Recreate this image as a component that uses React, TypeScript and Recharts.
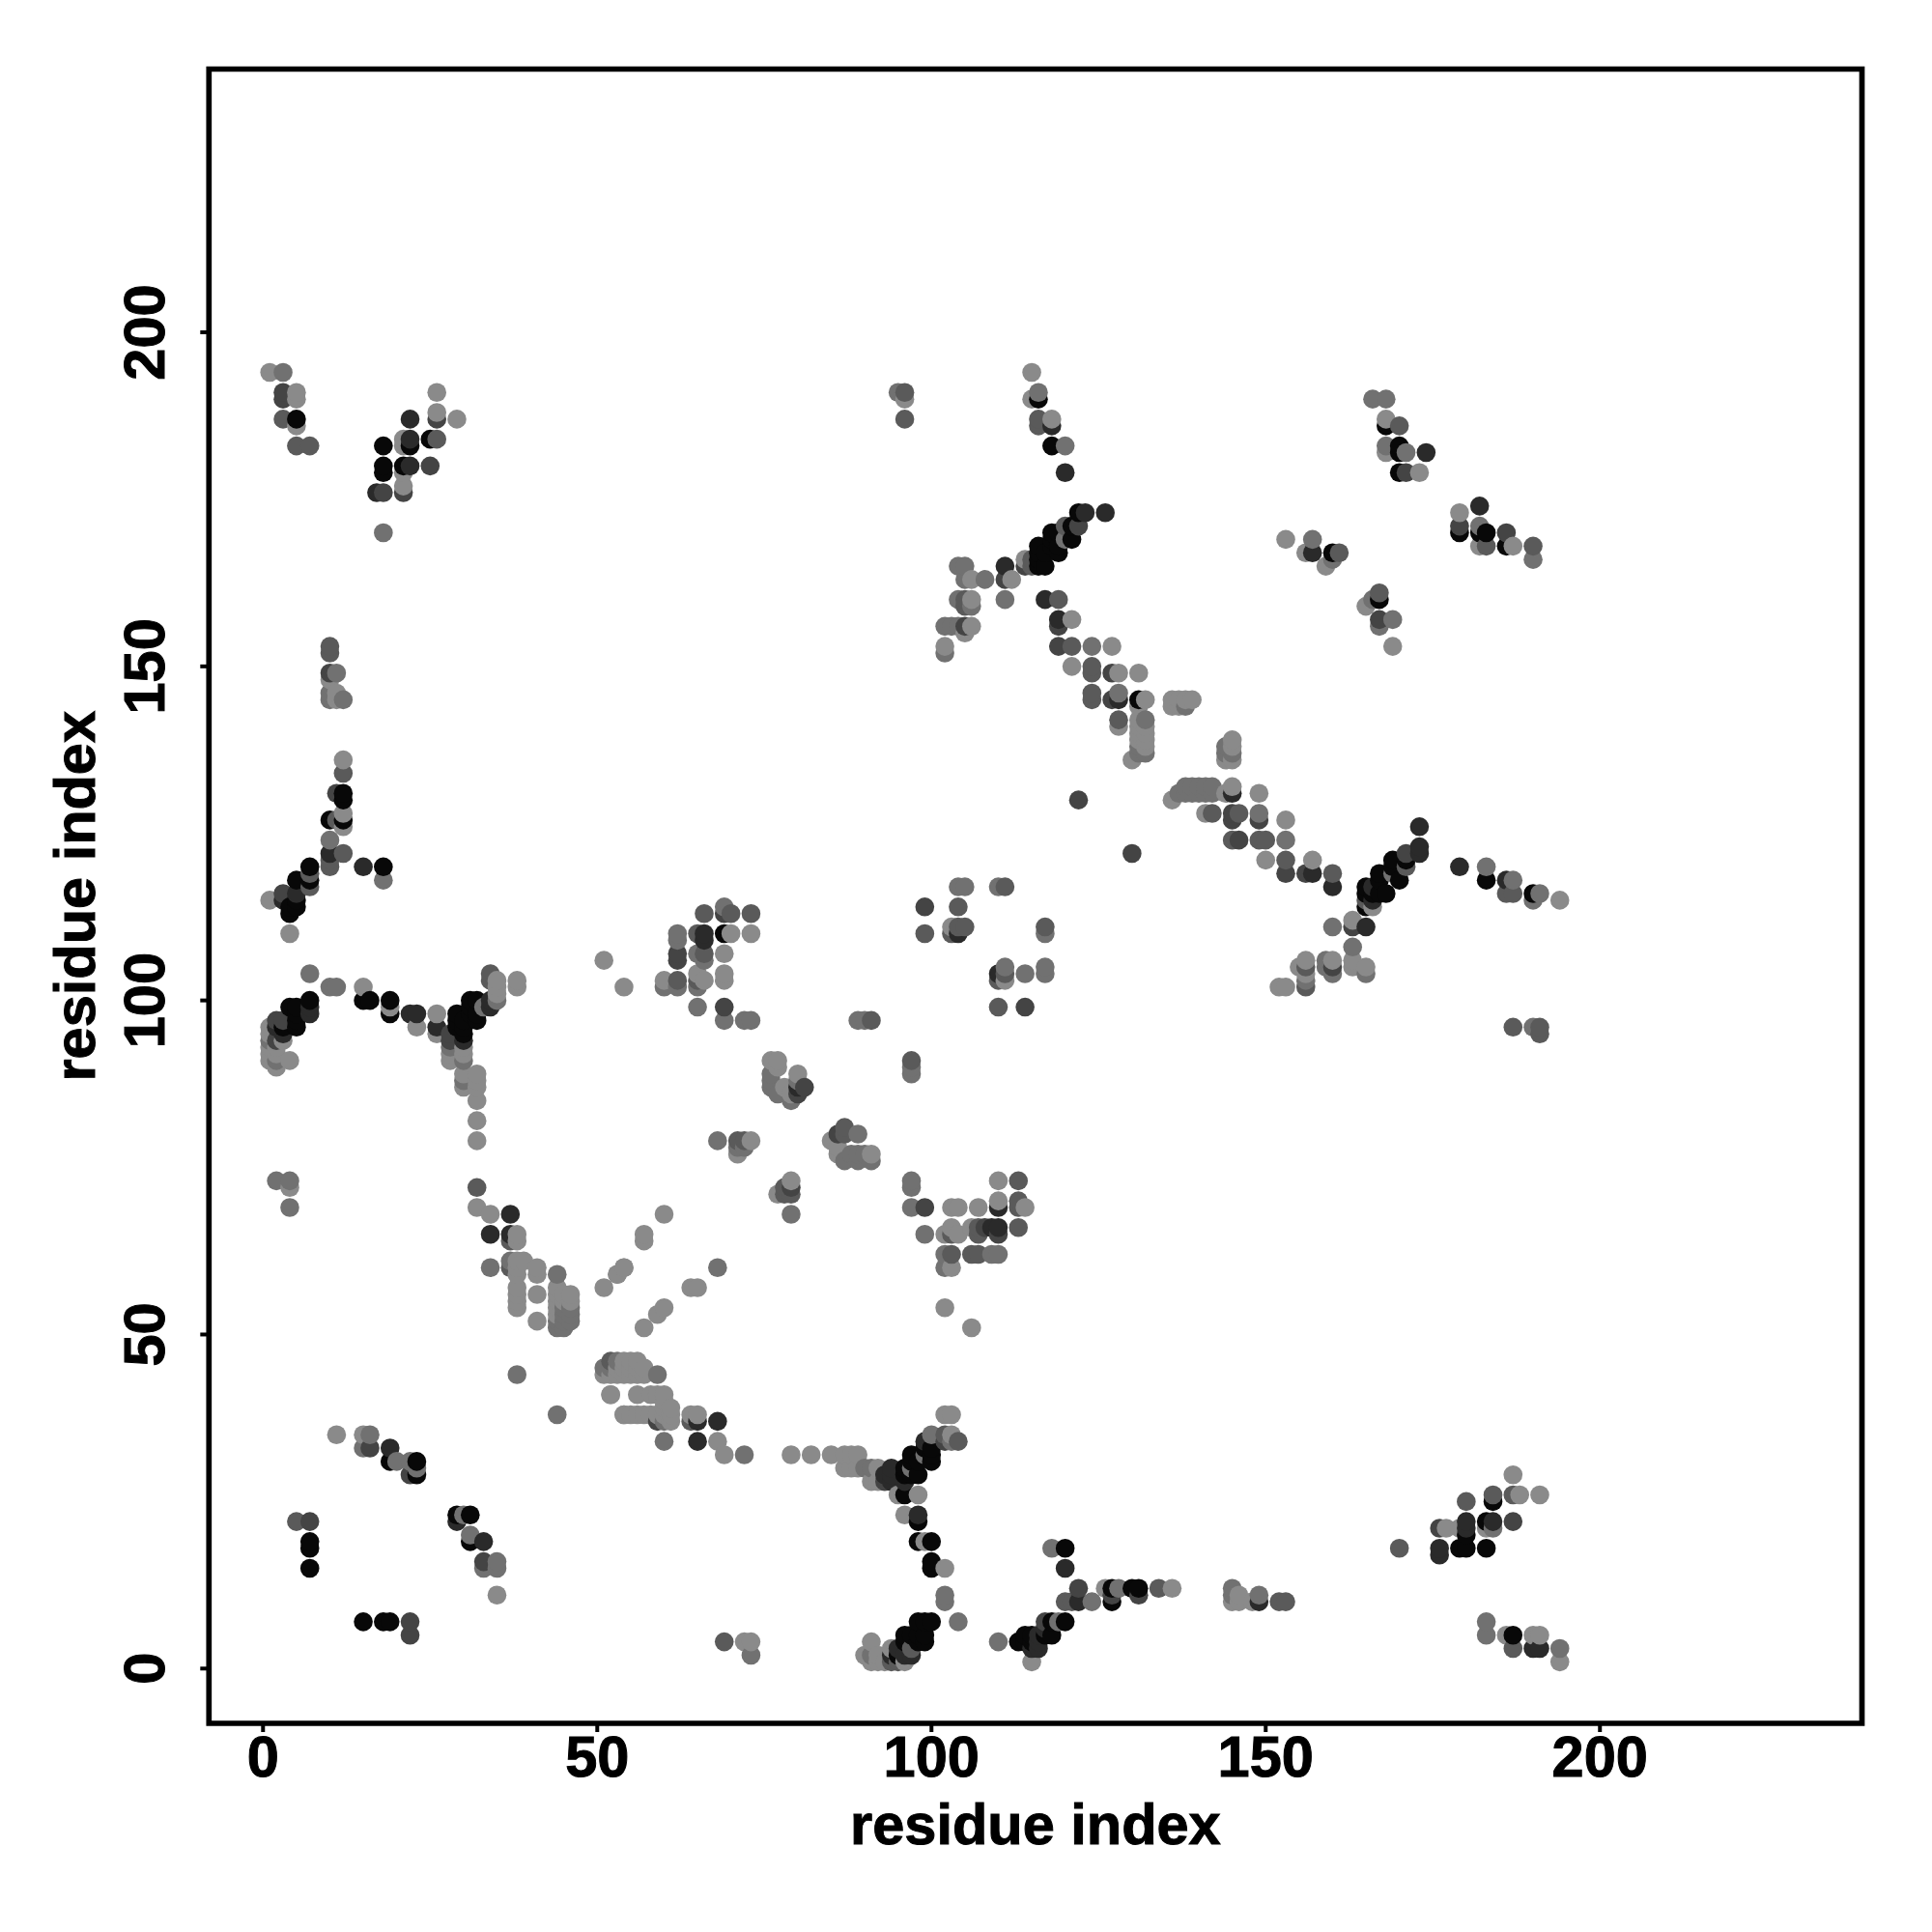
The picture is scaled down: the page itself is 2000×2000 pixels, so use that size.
import React from 'react'
import {
  ScatterChart,
  Scatter,
  XAxis,
  YAxis,
  ReferenceArea,
} from 'recharts'

// [residue i, residue j, strength class: 0 = strongest, 5 = weakest]
type Contact = [number, number, number]

const TICKS = [0, 50, 100, 150, 200]
const X_DOMAIN: [number, number] = [-8.09, 239.2]
const Y_DOMAIN: [number, number] = [-8.2, 239.4]
const GRAYS = ['#080808', '#2a2a2a', '#444444', '#5a5a5a', '#717171', '#8a8a8a']

const topLeft: Contact[] = [
  [1,194,5],[3,194,4],[3,191,2],[3,190,2],[5,191,5],[5,190,5],[3,187,3],[5,187,0],[5,186,5],[5,183,3],[7,183,3],
  [26,191,5],[26,188,5],[26,187,2],[29,187,5],[22,187,1],[18,183,0],[21,184,5],[21,183,5],[22,184,1],[22,183,0],
  [25,184,0],[26,184,3],[18,180,0],[18,179,0],[21,180,0],[22,180,1],[25,180,2],[21,179,5],[17,176,1],[18,176,2],
  [21,177,5],[21,176,2],[18,170,4],[10,153,3],[10,152,3],[10,149,2],[11,149,4],[10,148,5],[10,146,4],[11,146,5],
  [10,145,4],[11,145,5],[12,145,4],
]

const leftArm: Contact[] = [
  [12,136,5],[12,134,3],[11,131,2],[12,131,0],[12,130,0],[12,128,5],[10,127,0],[11,127,3],[12,127,0],[12,126,5],
  [10,124,4],[10,122,1],[12,122,3],[10,121,3],[10,120,3],[15,120,1],[18,120,0],[18,118,4],[7,120,0],[7,119,3],
  [7,118,0],[7,117,3],[5,118,0],[5,116,1],[5,115,0],[5,114,0],[3,116,2],[3,115,1],[4,114,0],[4,113,0],[1,115,5],
  [4,110,5],
]

const band100: Contact[] = [
  [7,104,4],[10,102,4],[11,102,4],[15,102,5],[15,100,0],[16,100,0],[19,100,0],[19,99,5],[19,98,0],[22,98,1],[23,98,1],
  [23,96,5],[26,98,5],[26,96,1],[26,95,5],[7,100,0],[7,99,1],[7,98,1],[4,99,0],[5,99,0],[5,98,0],[5,97,0],[5,96,0],
  [3,97,2],[3,96,0],[3,95,1],[2,97,2],[2,96,1],[1,96,5],[1,95,5],[1,94,4],[1,93,5],[1,92,5],[1,91,5],[2,94,2],[2,93,5],
  [3,94,5],[2,92,5],[2,91,4],[2,90,5],[4,91,5],[29,98,0],[29,97,0],[29,96,0],[28,95,2],[28,94,2],[28,93,4],[28,92,5],
  [28,91,5],[30,97,0],[30,96,0],[30,95,0],[30,94,1],[30,93,5],[30,92,5],[30,91,4],[30,89,5],[30,88,4],[30,87,5],
  [31,100,0],[32,100,0],[31,99,0],[31,98,0],[32,98,0],[32,97,0],[34,100,1],[34,99,1],[35,101,5],[34,104,3],[34,103,3],
  [35,103,5],[38,103,5],[38,102,5],[35,102,5],[35,100,4],[33,99,4],[32,89,5],[32,88,5],[32,87,5],[32,85,5],[32,82,5],[32,79,5],
]

const lowerLeft: Contact[] = [
  [2,73,4],[4,73,4],[4,72,5],[4,69,4],[32,72,3],[32,69,5],[34,68,5],[37,68,1],[34,65,1],[37,65,1],[38,65,5],[37,64,3],
  [38,64,5],[34,60,4],[37,61,4],[38,61,5],[39,61,5],[37,60,3],[38,60,5],[41,60,5],[41,59,5],[38,59,5],[44,59,4],
  [38,57,5],[38,56,5],[38,55,5],[38,54,5],[41,56,5],[41,52,5],
  [44,57,5],[44,56,5],[44,55,5],[44,54,5],[44,53,5],[44,52,4],[44,51,4],
  [45,56,5],[45,55,5],[45,54,4],[45,53,4],[45,52,4],[45,51,4],[46,56,5],[46,55,5],[46,54,4],[46,53,4],[46,52,4],
  [51,57,5],[53,59,5],[54,60,5],[38,44,4],[44,38,4],[52,41,5],[54,38,5],
  [11,35,5],[15,35,5],[16,35,4],[15,33,4],[16,33,2],[19,33,1],[19,31,0],[20,31,4],[22,31,4],[23,31,0],[23,30,4],
  [22,29,2],[23,29,0],[5,22,3],[7,22,2],[7,19,0],[7,18,0],[7,15,0],[29,23,0],[29,22,1],[30,23,4],[31,23,0],[31,20,4],
  [31,19,0],[33,19,1],[33,16,2],[33,15,4],[35,16,4],[35,15,4],[35,11,5],[15,7,0],[18,7,0],[19,7,0],[22,7,2],[22,5,2],
]

const midUpper: Contact[] = [
  [51,106,5],[54,102,5],[60,103,5],[60,102,4],[62,103,3],[62,102,4],[62,110,4],[62,109,4],[62,107,2],[62,106,2],
  [65,110,3],[66,113,3],[66,110,1],[66,109,1],[65,107,4],[66,107,3],[66,106,4],[65,104,5],[65,103,3],[65,102,4],
  [66,103,5],[69,114,4],[69,113,2],[70,113,3],[73,113,3],[69,110,0],[70,110,5],[73,110,5],[69,107,5],[69,104,5],
  [69,103,5],[65,99,4],[69,99,2],[69,97,4],[72,97,4],[73,97,4],[89,97,4],[90,97,4],[91,97,3],[97,91,3],[97,90,4],[97,89,4],
  [76,91,5],[77,91,5],[76,89,4],[77,90,5],[76,88,4],[76,87,4],[77,86,4],[78,87,5],[80,89,5],[80,88,4],[80,87,1],[80,86,2],
  [79,85,4],[81,87,2],[79,86,5],[68,79,4],[71,79,3],[72,79,3],[73,79,5],[71,78,4],[71,77,5],[72,78,4],
  [87,81,3],[86,80,2],[85,79,5],[87,80,3],[89,80,4],[86,78,5],[86,77,5],[87,76,4],[89,77,4],[89,76,4],[90,77,4],[91,77,5],
  [91,76,4],[88,77,4],[79,73,5],[79,72,2],[78,72,3],[78,71,3],[77,71,5],[79,71,3],[79,68,4],[60,68,5],[57,65,5],[57,64,5],
]

const midRight: Contact[] = [
  [104,117,4],[105,117,4],[110,117,4],[111,117,3],[99,114,2],[104,114,3],[99,110,3],[103,111,5],[103,110,3],[104,111,3],
  [104,110,1],[105,111,3],[117,111,3],[117,110,4],[110,104,1],[110,103,3],[111,105,4],[111,104,3],[111,103,5],[114,104,4],
  [117,105,4],[117,104,4],[110,99,3],[114,99,2],[97,73,4],[97,72,4],[97,69,4],[99,69,2],[103,69,5],[104,69,5],[107,69,5],
  [110,73,5],[113,73,3],[110,70,5],[110,69,1],[113,70,3],[113,69,3],[114,69,5],[99,65,4],[102,65,5],[103,66,5],[103,65,3],
  [104,65,5],[106,66,5],[107,66,3],[108,66,2],[109,66,1],[110,66,1],[110,65,2],[107,65,3],[113,66,3],
  [102,62,4],[103,62,3],[106,62,3],[107,62,3],[109,62,4],[110,62,4],[102,60,4],[103,60,5],[102,54,5],[106,51,5],
]

const lowerMiddle: Contact[] = [
  [54,60,5],[53,59,5],[68,60,4],[64,57,5],[65,57,5],[60,54,5],[59,53,5],[57,51,5],
  [52,46,3],[53,46,4],[54,46,5],[55,46,5],[56,46,5],[51,45,4],[52,45,4],[53,45,5],[54,45,5],[55,45,5],[56,45,5],[57,45,5],
  [51,44,5],[52,44,5],[53,44,5],[54,44,5],[55,44,5],[56,44,5],[57,44,5],[59,44,4],
  [52,41,5],[56,41,5],[58,41,5],[59,41,5],[60,41,5],[60,40,5],[60,39,5],[61,39,5],
  [54,38,5],[55,38,5],[56,38,5],[57,38,5],[58,38,5],[59,38,5],[60,38,5],[61,38,5],[59,37,2],[60,37,4],[61,37,5],
  [64,38,5],[65,38,5],[64,37,3],[65,37,1],[68,37,1],[60,34,4],[65,34,1],[68,34,5],[69,32,5],[72,32,4],
  [79,32,5],[82,32,5],[85,32,5],[87,32,5],[88,32,5],[89,32,5],[87,30,5],[88,30,5],[89,30,5],[90,30,4],[91,30,4],[92,30,5],
  [91,28,5],[92,28,5],[93,29,1],[93,28,2],[94,30,1],[94,29,1],[94,28,1],[95,26,5],[96,26,0],[98,26,5],[96,28,1],
  [96,30,0],[96,29,0],[97,32,0],[97,31,0],[97,30,4],[97,29,0],[98,29,0],[98,31,0],[99,32,4],[99,34,1],[99,33,0],[100,32,0],
  [100,31,0],[100,33,0],[100,35,4],[102,35,3],[103,35,5],[102,34,2],[103,34,4],[104,34,3],[102,38,5],[103,38,5],
  [96,23,5],[98,23,1],[98,22,0],[98,19,0],[99,19,5],[100,19,0],[100,16,0],[100,15,0],[102,15,5],[102,11,4],[102,10,4],[104,7,4],
  [98,7,0],[99,7,0],[100,7,0],[96,5,0],[97,5,0],[98,5,0],[99,5,0],[96,4,0],[98,4,0],[99,4,0],[97,3,3],[97,2,1],[95,3,1],
  [94,3,5],[94,2,1],[95,2,0],[96,2,1],[96,1,5],[94,1,3],[93,1,5],[91,4,5],[90,2,5],[91,2,4],[91,1,5],[92,2,5],[92,1,5],[95,1,3],
  [69,4,3],[72,4,5],[73,4,5],[73,2,4],
]

const lowerRight: Contact[] = [
  [110,4,4],[113,4,0],[114,5,0],[115,5,0],[114,4,0],[115,4,0],[116,3,1],[115,3,1],[116,4,1],[116,5,1],[115,1,5],
  [117,7,2],[118,7,0],[119,7,4],[120,7,0],[117,5,0],[118,5,0],[117,6,1],[118,18,4],[120,18,0],[120,15,1],[122,12,2],
  [120,10,3],[121,10,3],[122,10,1],[124,10,4],[126,12,5],[127,12,0],[128,12,4],[127,11,2],[127,10,0],[130,12,0],[131,12,0],
  [131,11,2],[134,12,3],[136,12,5],[145,12,4],[145,11,4],[145,10,5],[146,11,5],[146,10,5],[149,11,4],[149,10,1],[148,10,5],
  [152,10,3],[153,10,3],[187,29,5],[180,25,3],[184,26,3],[184,25,0],[187,26,3],[188,26,5],[191,26,5],[176,21,2],[177,21,5],
  [179,21,5],[180,22,1],[180,21,1],[180,20,0],[183,22,0],[184,22,1],[183,21,5],[184,21,4],[187,22,2],[170,18,3],[176,18,1],
  [176,17,1],[179,18,0],[180,18,0],[183,18,0],[183,7,4],[183,5,4],[186,5,5],[187,5,0],[187,3,3],[190,5,5],[191,5,5],
  [190,3,1],[191,3,1],[194,3,4],[194,1,5],
]

const upperCentre: Contact[] = [
  [95,191,4],[96,191,3],[96,190,5],[96,187,3],[115,194,5],[115,190,5],[116,191,4],[116,190,0],[116,187,3],[116,186,3],
  [118,187,5],[118,186,1],[118,183,0],[120,183,4],[120,179,1],[122,173,0],[123,173,1],[126,173,1],[120,171,3],[121,171,0],
  [122,171,2],[118,170,0],[119,170,0],[121,169,0],[118,169,0],[120,169,4],[116,168,0],[119,168,0],[118,168,0],[119,167,0],
  [116,167,0],[117,167,0],[115,166,3],[116,166,0],[114,166,5],[117,165,0],[116,165,0],[115,165,3],[114,165,2],[111,165,1],
  [111,163,2],[112,163,5],[108,163,4],[104,165,4],[105,165,4],[105,163,4],[106,163,5],[111,160,4],[117,160,1],[119,160,3],
  [104,160,4],[105,160,3],[106,160,5],[106,159,4],[105,159,3],[102,156,4],[103,156,4],[104,156,4],[105,156,2],[106,156,5],
  [105,155,5],[102,153,5],[102,152,4],[119,157,1],[119,156,2],[121,157,5],[119,153,2],[121,153,3],[124,153,4],[127,153,5],
  [121,150,5],[124,150,3],[124,149,3],[127,149,2],[128,149,5],[131,149,5],[124,146,3],[124,145,3],[127,145,2],[128,146,4],
  [128,145,1],[131,145,0],[132,145,5],[131,144,5],[136,145,5],[136,144,5],[137,145,5],[137,144,5],[138,145,5],[138,144,4],
  [139,145,5],[128,142,3],[128,141,5],[131,142,5],[131,141,5],[131,140,5],[131,139,5],[131,138,4],[131,137,4],[132,142,4],
  [132,141,5],[132,140,5],[132,139,5],[132,138,5],[132,137,4],[130,136,5],
]

const diagonalRight: Contact[] = [
  [122,130,2],[130,122,2],[145,139,5],[144,138,4],[145,138,5],[144,137,4],[145,137,4],[144,136,5],[145,136,5],[136,130,5],
  [137,131,4],[138,132,4],[138,131,4],[139,132,4],[139,131,4],[140,132,4],[140,131,4],[141,132,4],[141,131,4],[142,132,4],
  [142,131,4],[144,131,5],[145,132,5],[145,131,1],[149,131,5],[141,128,5],[142,128,3],[145,128,2],[145,127,2],[146,128,3],
  [149,128,4],[149,127,2],[153,127,5],[145,124,3],[146,124,2],[149,124,3],[150,124,3],[153,124,4],[150,121,5],[153,121,3],
  [153,119,2],[156,119,2],[157,121,5],[157,119,1],[160,119,3],[160,117,1],[173,126,1],[173,123,1],[173,122,1],[171,122,2],
  [169,121,0],[171,121,0],[171,120,3],[169,120,0],[167,119,0],[170,118,0],[169,119,4],[167,118,0],[165,117,0],[166,117,1],
  [168,116,0],[167,116,0],[166,116,0],[165,116,0],[165,115,3],[166,115,1],[165,114,0],[166,114,5],[163,112,5],[163,111,2],
  [165,111,1],[160,111,4],[163,108,4],[163,106,5],[163,105,5],[165,105,5],[165,104,4],[156,106,5],[156,105,3],[156,104,5],
  [156,103,4],[156,102,3],[155,105,5],[159,106,4],[160,106,5],[159,105,4],[160,105,2],[160,104,4],[152,102,5],[153,102,5],
  [179,120,1],[183,120,4],[183,118,0],[186,118,1],[187,118,4],[186,116,3],[187,116,3],[190,116,0],[191,116,4],[190,115,4],
  [194,115,5],[187,96,3],[190,96,4],[191,96,3],[191,95,3],
]

const topRight: Contact[] = [
  [166,190,4],[168,190,4],[168,187,5],[168,186,0],[170,186,3],[168,183,4],[168,182,5],[170,183,0],[170,182,0],[171,182,4],
  [174,182,1],[170,179,0],[171,179,2],[173,179,5],[179,173,5],[182,174,1],[179,171,2],[179,170,0],[182,171,4],[182,170,0],
  [183,170,0],[182,168,5],[183,168,3],[186,170,2],[186,168,0],[187,168,5],[190,168,3],[190,166,4],[153,169,5],[157,169,4],
  [156,167,5],[157,167,1],[160,167,0],[161,167,3],[160,166,4],[159,165,5],[167,161,3],[167,160,0],[166,160,4],[165,159,5],
  [167,157,2],[167,156,4],[169,157,4],[169,153,5],
]

// the plot draws in order of i then j, so later points sit on top
const contacts = [
  ...topLeft, ...leftArm, ...band100, ...lowerLeft, ...midUpper, ...midRight,
  ...lowerMiddle, ...lowerRight, ...upperCentre, ...diagonalRight, ...topRight,
]
  .sort((a, b) => a[0] - b[0] || a[1] - b[1])
  .map(([x, y, strength]) => ({ x, y, strength }))

const FONT = '"Liberation Sans", Arial, sans-serif'
const TEXT_SIZE = 59.5

const renderDot = (props: any) => (
  <circle cx={props.cx} cy={props.cy} r={9.8} fill={GRAYS[props.payload.strength]} />
)

const XTick = ({ x, y, payload }: any) => (
  <text
    x={x}
    y={y + 46}
    textAnchor="middle"
    fontFamily={FONT}
    fontWeight="bold"
    fontSize={TEXT_SIZE}
    fill="#000"
    stroke="#000"
    strokeWidth={1}
  >
    {payload.value}
  </text>
)

const YTick = ({ x, y, payload }: any) => (
  <text
    x={x - 37}
    y={y}
    transform={`rotate(-90 ${x - 37} ${y})`}
    textAnchor="middle"
    fontFamily={FONT}
    fontWeight="bold"
    fontSize={TEXT_SIZE}
    fill="#000"
    stroke="#000"
    strokeWidth={1}
  >
    {payload.value}
  </text>
)

export default function App() {
  return (
    <div style={{ position: 'absolute', left: 0, top: 0, width: 2000, height: 2000, background: '#fff' }}>
      <ScatterChart width={2000} height={2000} margin={{ top: 71.5, right: 72.5, bottom: 50, left: 50 }}>
        <XAxis
          type="number"
          dataKey="x"
          domain={X_DOMAIN}
          ticks={TICKS}
          height={166}
          axisLine={false}
          tickSize={9}
          tickMargin={0}
          tickLine={{ stroke: '#000', strokeWidth: 4 }}
          tick={XTick}
          label={{
            value: 'residue index',
            position: 'insideBottom',
            offset: 41,
            fontFamily: FONT,
            fontWeight: 'bold',
            fontSize: TEXT_SIZE,
            fill: '#000',
            stroke: '#000',
            strokeWidth: 1,
          }}
        />
        <YAxis
          type="number"
          dataKey="y"
          domain={Y_DOMAIN}
          ticks={TICKS}
          width={166.3}
          axisLine={false}
          tickSize={9}
          tickMargin={0}
          tickLine={{ stroke: '#000', strokeWidth: 4 }}
          tick={YTick}
          label={{
            value: 'residue index',
            angle: -90,
            position: 'insideLeft',
            offset: 27,
            style: { textAnchor: 'middle' },
            fontFamily: FONT,
            fontWeight: 'bold',
            fontSize: TEXT_SIZE,
            fill: '#000',
            stroke: '#000',
            strokeWidth: 1,
          }}
        />
        <Scatter data={contacts} shape={renderDot} isAnimationActive={false} />
        <ReferenceArea
          x1={X_DOMAIN[0]}
          x2={X_DOMAIN[1]}
          y1={Y_DOMAIN[0]}
          y2={Y_DOMAIN[1]}
          fill="none"
          stroke="#000"
          strokeWidth={5.7}
        />
      </ScatterChart>
    </div>
  )
}
